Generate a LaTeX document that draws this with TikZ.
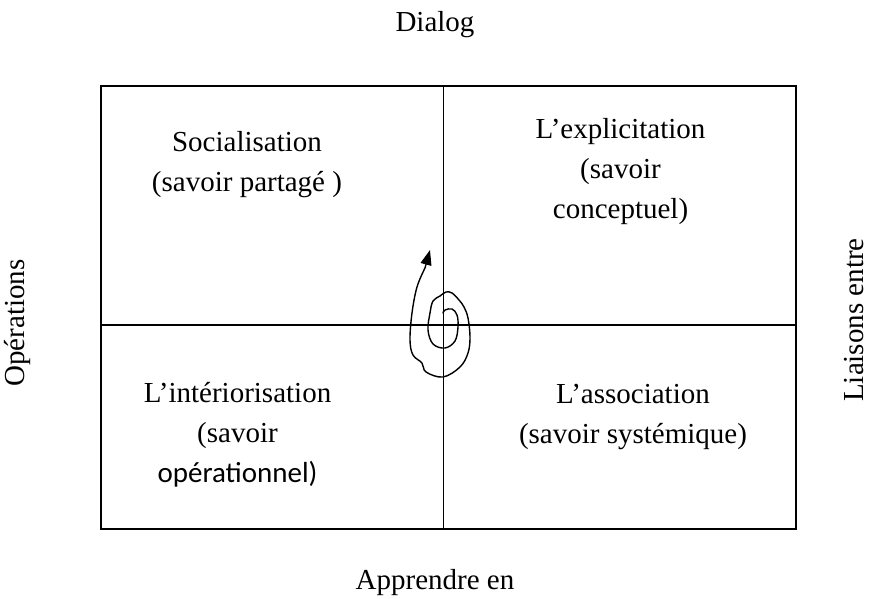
\documentclass[tikz,border=0pt]{standalone}
\usepackage{fontspec}
\setmainfont{Liberation Serif}
\newfontfamily\calsans{Carlito}
\usetikzlibrary{arrows.meta}
\begin{document}
\begin{tikzpicture}[x=1pt,y=-1pt,
  frame/.style={line width=1.3pt},
  label/.style={font=\fontsize{29}{40}\selectfont, align=center, inner sep=0pt},
  axis/.style={font=\fontsize{29}{40}\selectfont, inner sep=0pt},
  spiral/.style={line width=1.4pt, line join=round, line cap=round,
    -{Triangle[length=15pt,width=11pt]}}]
\path[use as bounding box] (0,0) rectangle (870,599);

% quadrant frame
\coordinate (tl) at (101,86);
\coordinate (br) at (796,529);
\draw[frame] (tl) rectangle (br);
\coordinate (mt) at (443.5,86);
\coordinate (mb) at (443.5,529);
\coordinate (ml) at (101,325);
\coordinate (mr) at (796,325);
\draw[frame] (mt) -- (mb);
\draw[frame] (ml) -- (mr);

% axis labels
\node[axis] (dialog) at (435,25) {Dialog};
\node[axis] (apprendre) at (435,583) {Apprendre en};
\node[axis, rotate=90] (ops) at (18,323) {Opérations};
\node[axis, rotate=90] (liaisons) at (854,320) {Liaisons entre};

% quadrant contents
\node[label] (soc) at (247,165) {Socialisation\\(savoir partagé )};
\node[label] (expl) at (620.5,172) {L’explicitation\\(savoir\\conceptuel)};
\node[label] (inter) at (237.5,435) {L’intériorisation\\(savoir\\{\calsans opérationnel)}};
\node[label] (assoc) at (633,417) {L’association\\(savoir systémique)};

% spiral around the centre
\coordinate (spiraltip) at (430,250);
\draw[spiral] plot[smooth, tension=0.6] coordinates {
  (443,313) (445,310) (452,309) (457,315) (458,327) (455,341) (445,348)
  (433,344) (428,330) (430,313) (433,301) (440,296) (446,292) (452,293)
  (459,300) (464,307) (468,318) (470,337) (468,353) (460,367) (443,377)
  (426,372) (422,363) (413,355) (410,340) (412,313) (417,287) (425,268)}
  -- (spiraltip);
\end{tikzpicture}
\end{document}
